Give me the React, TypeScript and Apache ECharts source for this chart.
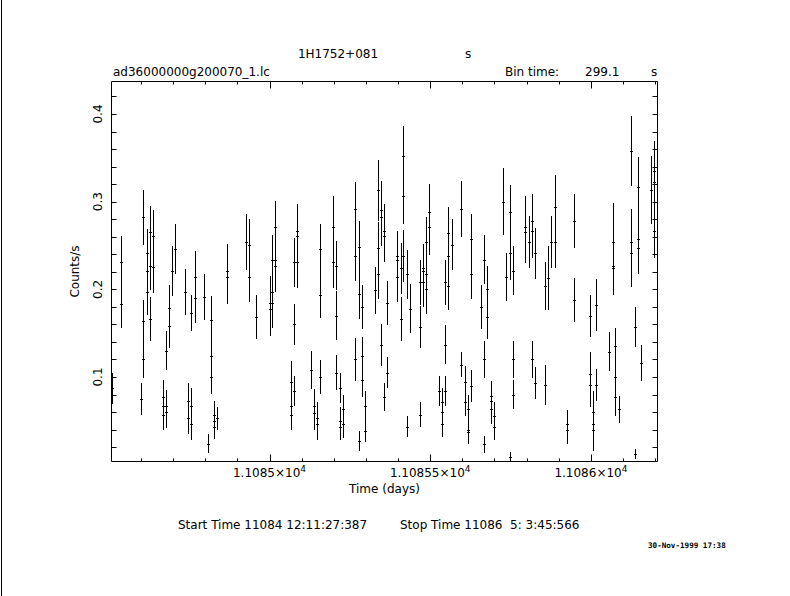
import { useEffect, useRef } from 'react';
import * as echarts from 'echarts';

const times = [
  11084.510, 11084.539, 11084.539, 11084.599, 11084.607, 11084.607, 11084.607, 11084.618, 11084.618, 11084.618,
  11084.629, 11084.629, 11084.629, 11084.638, 11084.638, 11084.670, 11084.670, 11084.670, 11084.678, 11084.678,
  11084.678, 11084.688, 11084.688, 11084.698, 11084.707, 11084.738, 11084.747, 11084.747, 11084.757, 11084.757,
  11084.757, 11084.768, 11084.768, 11084.797, 11084.808, 11084.819, 11084.819, 11084.819, 11084.828, 11084.828,
  11084.828, 11084.838, 11084.869, 11084.869, 11084.928, 11084.937, 11084.937, 11084.959, 11085.000, 11085.000,
  11085.008, 11085.008, 11085.008, 11085.017, 11085.017, 11085.017, 11085.068, 11085.068, 11085.068, 11085.077,
  11085.077, 11085.077, 11085.087, 11085.087, 11085.087, 11085.129, 11085.138, 11085.138, 11085.148, 11085.148,
  11085.158, 11085.158, 11085.158, 11085.198, 11085.198, 11085.208, 11085.208, 11085.208, 11085.218, 11085.218,
  11085.218, 11085.228, 11085.228, 11085.267, 11085.267, 11085.267, 11085.278, 11085.278, 11085.278, 11085.288,
  11085.288, 11085.288, 11085.298, 11085.298, 11085.327, 11085.338, 11085.338, 11085.338, 11085.347, 11085.347,
  11085.347, 11085.357, 11085.357, 11085.357, 11085.367, 11085.367, 11085.398, 11085.398, 11085.398, 11085.408,
  11085.408, 11085.416, 11085.416, 11085.416, 11085.427, 11085.427, 11085.438, 11085.467, 11085.467, 11085.467,
  11085.477, 11085.477, 11085.477, 11085.487, 11085.487, 11085.487, 11085.497, 11085.497, 11085.527, 11085.537,
  11085.537, 11085.537, 11085.547, 11085.547, 11085.547, 11085.556, 11085.556, 11085.556, 11085.568, 11085.597,
  11085.597, 11085.607, 11085.607, 11085.618, 11085.618, 11085.618, 11085.627, 11085.627, 11085.627, 11085.659,
  11085.667, 11085.667, 11085.667, 11085.678, 11085.678, 11085.688, 11085.688, 11085.688, 11085.698, 11085.698,
  11085.727, 11085.737, 11085.747, 11085.747, 11085.747, 11085.757, 11085.757, 11085.757, 11085.796, 11085.796,
  11085.806, 11085.818, 11085.818, 11085.818, 11085.827, 11085.827, 11085.858, 11085.858, 11085.867, 11085.877,
  11085.887, 11085.887, 11085.927, 11085.927, 11085.947, 11085.947, 11085.998, 11085.998, 11085.998, 11086.007,
  11086.007, 11086.007, 11086.017, 11086.017, 11086.057, 11086.068, 11086.068, 11086.068, 11086.076, 11086.076,
  11086.076, 11086.087, 11086.126, 11086.126, 11086.126, 11086.136, 11086.136, 11086.148, 11086.148, 11086.148,
  11086.157, 11086.187, 11086.197, 11086.197, 11086.197,
];

const rates = [
  0.087, 0.231, 0.183, 0.075, 0.164, 0.282, 0.120, 0.241, 0.221, 0.197,
  0.265, 0.227, 0.166, 0.261, 0.226, 0.077, 0.067, 0.057, 0.130, 0.067,
  0.060, 0.179, 0.158, 0.221, 0.246, 0.197, 0.073, 0.053, 0.067, 0.173,
  0.046, 0.214, 0.190, 0.191, 0.024, 0.165, 0.124, 0.100, 0.057, 0.050,
  0.043, 0.053, 0.221, 0.214, 0.254, 0.251, 0.214, 0.168, 0.184, 0.178,
  0.234, 0.197, 0.184, 0.271, 0.234, 0.227, 0.094, 0.067, 0.057, 0.231,
  0.160, 0.084, 0.267, 0.261, 0.231, 0.108, 0.067, 0.059, 0.053, 0.046,
  0.100, 0.246, 0.194, 0.271, 0.231, 0.105, 0.227, 0.170, 0.087, 0.050,
  0.043, 0.063, 0.046, 0.120, 0.292, 0.238, 0.248, 0.195, 0.027, 0.124,
  0.180, 0.097, 0.067, 0.038, 0.199, 0.313, 0.247, 0.217, 0.137, 0.291,
  0.282, 0.077, 0.267, 0.261, 0.105, 0.184, 0.238, 0.234, 0.214, 0.166,
  0.224, 0.352, 0.307, 0.238, 0.043, 0.217, 0.178, 0.057, 0.208, 0.157,
  0.224, 0.221, 0.208, 0.254, 0.217, 0.200, 0.288, 0.271, 0.084, 0.072,
  0.060, 0.046, 0.084, 0.208, 0.137, 0.264, 0.238, 0.204, 0.251, 0.114,
  0.292, 0.094, 0.072, 0.063, 0.040, 0.037, 0.090, 0.257, 0.217, 0.180,
  0.120, 0.234, 0.023, 0.200, 0.168, 0.078, 0.073, 0.063, 0.056, 0.043,
  0.300, 0.214, 0.009, 0.288, 0.241, 0.120, 0.221, 0.080, 0.271, 0.265,
  0.254, 0.120, 0.278, 0.267, 0.093, 0.241, 0.091, 0.204, 0.213, 0.254,
  0.294, 0.254, 0.046, 0.040, 0.278, 0.188, 0.170, 0.103, 0.091, 0.060,
  0.046, 0.040, 0.091, 0.182, 0.129, 0.254, 0.227, 0.224, 0.135, 0.100,
  0.077, 0.063, 0.358, 0.254, 0.241, 0.157, 0.012, 0.317, 0.257, 0.247,
  0.116, 0.313, 0.335, 0.322, 0.266,
];

const errors = [
  0.018, 0.030, 0.027, 0.018, 0.024, 0.031, 0.021, 0.028, 0.028, 0.026,
  0.030, 0.028, 0.025, 0.030, 0.030, 0.020, 0.018, 0.018, 0.022, 0.018,
  0.018, 0.026, 0.025, 0.029, 0.029, 0.026, 0.020, 0.018, 0.020, 0.020,
  0.018, 0.030, 0.028, 0.026, 0.011, 0.027, 0.024, 0.019, 0.016, 0.015,
  0.014, 0.013, 0.031, 0.031, 0.032, 0.029, 0.029, 0.025, 0.031, 0.031,
  0.028, 0.028, 0.028, 0.030, 0.030, 0.030, 0.024, 0.020, 0.018, 0.028,
  0.023, 0.017, 0.030, 0.030, 0.030, 0.022, 0.019, 0.019, 0.018, 0.018,
  0.019, 0.028, 0.027, 0.035, 0.030, 0.020, 0.028, 0.028, 0.017, 0.016,
  0.015, 0.016, 0.016, 0.024, 0.031, 0.029, 0.030, 0.029, 0.011, 0.022,
  0.025, 0.020, 0.017, 0.012, 0.027, 0.035, 0.030, 0.028, 0.024, 0.033,
  0.033, 0.016, 0.030, 0.030, 0.018, 0.025, 0.028, 0.028, 0.028, 0.025,
  0.029, 0.034, 0.033, 0.030, 0.012, 0.028, 0.028, 0.014, 0.026, 0.024,
  0.028, 0.028, 0.028, 0.029, 0.028, 0.028, 0.032, 0.032, 0.017, 0.015,
  0.015, 0.014, 0.017, 0.026, 0.022, 0.030, 0.029, 0.028, 0.029, 0.014,
  0.032, 0.018, 0.017, 0.016, 0.013, 0.013, 0.018, 0.029, 0.028, 0.025,
  0.021, 0.028, 0.010, 0.027, 0.025, 0.018, 0.018, 0.017, 0.016, 0.015,
  0.038, 0.027, 0.005, 0.031, 0.030, 0.021, 0.028, 0.017, 0.035, 0.035,
  0.030, 0.021, 0.031, 0.031, 0.018, 0.029, 0.023, 0.027, 0.036, 0.030,
  0.036, 0.030, 0.016, 0.016, 0.031, 0.025, 0.024, 0.025, 0.025, 0.024,
  0.024, 0.024, 0.018, 0.030, 0.022, 0.044, 0.030, 0.030, 0.021, 0.021,
  0.021, 0.015, 0.040, 0.038, 0.038, 0.023, 0.006, 0.034, 0.030, 0.030,
  0.020, 0.039, 0.034, 0.034, 0.030,
];

const xLabelValues = [11085, 11085.5, 11086];
const xMajorTicks = [11085, 11085.5, 11086];
const xMinorTicks = [
  11084.6, 11084.7, 11084.8, 11084.9, 11085.1, 11085.2, 11085.3, 11085.4,
  11085.6, 11085.7, 11085.8, 11085.9, 11086.1, 11086.2,
];
const yLabelValues = [0.1, 0.2, 0.3, 0.4];
const yMajorTicks = [0.1, 0.2, 0.3, 0.4];
const yMinorTicks = [
  0.02, 0.04, 0.06, 0.08, 0.12, 0.14, 0.16, 0.18, 0.22, 0.24, 0.26, 0.28,
  0.32, 0.34, 0.36, 0.38, 0.42,
];

const X_MIN = 11084.5084;
const X_MAX = 11086.2072;
const Y_MIN = 0.0036;
const Y_MAX = 0.4371;

const FONT_FAMILY = '"DejaVu Sans", sans-serif';
const INK = '#000';

function xTickSeries(values: number[], len: number) {
  return {
    type: 'custom',
    silent: true,
    clip: false,
    data: values.map((v) => [v, Y_MIN]),
    renderItem: (params: any, api: any) => {
      const cs = params.coordSys;
      const x = Math.round(api.coord([api.value(0), Y_MIN])[0]) + 0.5;
      const bottom = cs.y + cs.height;
      const top = cs.y;
      const style = { stroke: INK, lineWidth: 1 };
      return {
        type: 'group',
        children: [
          { type: 'line', shape: { x1: x, y1: bottom, x2: x, y2: bottom - len }, style },
          { type: 'line', shape: { x1: x, y1: top, x2: x, y2: top + len }, style },
        ],
      };
    },
  };
}

function yTickSeries(values: number[], len: number) {
  return {
    type: 'custom',
    silent: true,
    clip: false,
    data: values.map((v) => [X_MIN, v]),
    renderItem: (params: any, api: any) => {
      const cs = params.coordSys;
      const y = Math.round(api.coord([X_MIN, api.value(1)])[1]) + 0.5;
      const left = cs.x;
      const right = cs.x + cs.width;
      const style = { stroke: INK, lineWidth: 1 };
      return {
        type: 'group',
        children: [
          { type: 'line', shape: { x1: left, y1: y, x2: left + len, y2: y }, style },
          { type: 'line', shape: { x1: right, y1: y, x2: right - len, y2: y }, style },
        ],
      };
    },
  };
}

function txt(text: string, x: number, y: number, align: string, extra: any = {}) {
  return {
    type: 'text',
    x,
    y,
    silent: true,
    ...extra,
    style: {
      text,
      fontFamily: FONT_FAMILY,
      fontSize: 12,
      fill: INK,
      align,
      verticalAlign: 'middle',
      ...(extra.style || {}),
    },
  };
}

export default function App() {
  const ref = useRef<HTMLDivElement>(null);

  useEffect(() => {
    document.body.style.margin = '0';
    const chart = echarts.init(ref.current!, null, { renderer: 'svg' });

    const lightCurve = times.map((t, i) => [t, rates[i], errors[i]]);

    const option: any = {
      animation: false,
      backgroundColor: '#fff',
      grid: {
        left: 111.5,
        top: 81.5,
        width: 546,
        height: 380,
        show: true,
        borderColor: INK,
        borderWidth: 1,
        backgroundColor: 'transparent',
      },
      xAxis: {
        type: 'value',
        min: X_MIN,
        max: X_MAX,
        axisLine: { show: false },
        axisTick: { show: false },
        splitLine: { show: false },
        axisLabel: {
          customValues: xLabelValues,
          margin: 3,
          formatter: (v: number) => `{m|${parseFloat((v / 1e4).toFixed(5))}×10}{s|4}`,
          rich: {
            m: { fontFamily: FONT_FAMILY, fontSize: 12, lineHeight: 17, color: INK },
            s: { fontFamily: FONT_FAMILY, fontSize: 9, lineHeight: 9, verticalAlign: 'top', color: INK },
          },
        },
      },
      yAxis: {
        type: 'value',
        min: Y_MIN,
        max: Y_MAX,
        axisLine: { show: false },
        axisTick: { show: false },
        splitLine: { show: false },
        axisLabel: {
          customValues: yLabelValues,
          rotate: 90,
          margin: 8,
          fontFamily: FONT_FAMILY,
          fontSize: 12,
          color: INK,
          formatter: (v: number) => v.toFixed(1),
        },
      },
      series: [
        {
          type: 'custom',
          name: 'Counts/s',
          clip: true,
          data: lightCurve,
          encode: { x: 0, y: 1 },
          renderItem: (_params: any, api: any) => {
            const t = api.value(0);
            const r = api.value(1);
            const e = api.value(2);
            const c = api.coord([t, r]);
            const hi = api.coord([t, r + e]);
            const lo = api.coord([t, r - e]);
            const xi = Math.round(c[0]);
            const x = xi + 0.5;
            const y = Math.round(c[1]) + 0.5;
            const style = { stroke: INK, lineWidth: 1 };
            return {
              type: 'group',
              children: [
                { type: 'line', shape: { x1: x, y1: Math.round(hi[1]), x2: x, y2: Math.round(lo[1]) }, style },
                { type: 'line', shape: { x1: xi - 1, y1: y, x2: xi + 2, y2: y }, style },
              ],
            };
          },
        },
        xTickSeries(xMajorTicks, 7),
        xTickSeries(xMinorTicks, 3),
        yTickSeries(yMajorTicks, 5),
        yTickSeries(yMinorTicks, 5),
      ],
      graphic: [
        { type: 'rect', silent: true, shape: { x: 1, y: 0, width: 1, height: 596 }, style: { fill: INK } },
        txt('1H1752+081', 338, 54, 'center'),
        txt('s', 468, 54, 'center'),
        txt('ad36000000g200070_1.lc', 113, 72, 'left'),
        txt('Bin time:', 505, 72, 'left'),
        txt('299.1', 585, 72, 'left'),
        txt('s', 654, 72, 'center'),
        txt('Time (days)', 384.5, 489, 'center'),
        txt('Counts/s', 75, 271.5, 'center', { rotation: Math.PI / 2 }),
        txt('Start Time 11084 12:11:27:387', 178, 525, 'left'),
        txt('Stop Time 11086  5: 3:45:566', 400, 525, 'left'),
        txt('30-Nov-1999 17:38', 648, 545, 'left', {
          style: { fontFamily: '"DejaVu Sans Mono", monospace', fontSize: 7.6, fontWeight: 'bold' },
        }),
      ],
    };

    chart.setOption(option);
    return () => chart.dispose();
  }, []);

  return <div ref={ref} style={{ width: 790, height: 596, background: '#fff' }} />;
}
